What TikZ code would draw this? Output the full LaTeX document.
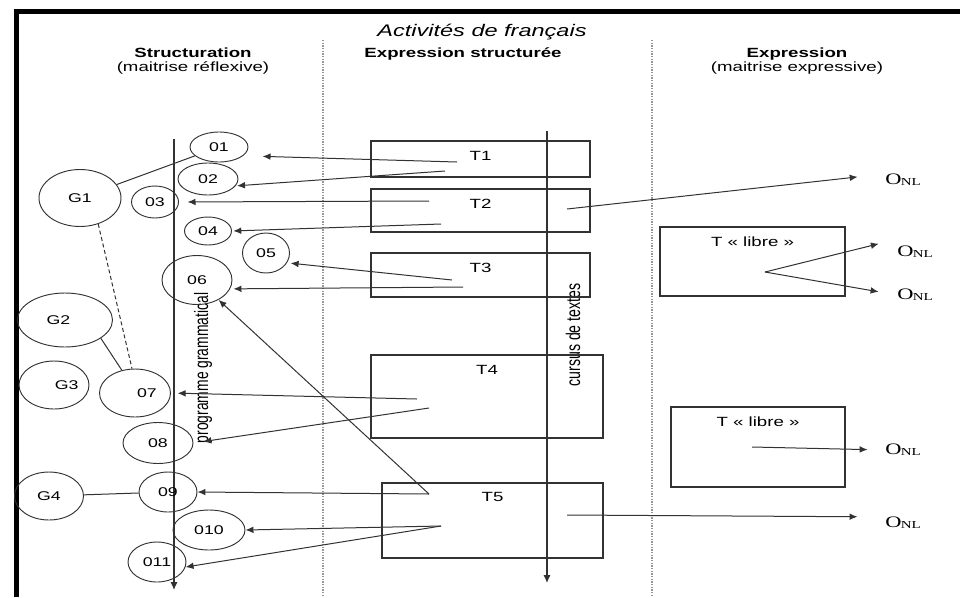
\documentclass[tikz,border=0pt]{standalone}
\usepackage{fontspec}
\setmainfont{Liberation Sans}
\newfontfamily\onlfont{Liberation Serif}
\usepackage{graphicx}
\usetikzlibrary{shapes.geometric,arrows.meta}
\definecolor{inkgray}{RGB}{50,50,50}
\definecolor{sepgray}{RGB}{150,150,150}
\newcommand{\wide}[1]{\scalebox{1.4}[1]{#1}}
\newcommand{\tall}[1]{\scalebox{1}[1.4]{#1}}
\newcommand{\onl}{\wide{\onlfont\fontsize{12}{12}\selectfont O\kern-0.3pt\raisebox{-0.8pt}{\fontsize{8}{8}\selectfont NL}}}

\begin{document}
\begin{tikzpicture}[x=0.75pt,y=-0.75pt,
  ell/.style 2 args={ellipse,draw=inkgray,line width=0.7pt,inner sep=0pt,
    minimum width=#1*0.75pt,minimum height=#2*0.75pt,font=\fontsize{9.5}{10}\selectfont},
  tbox/.style 2 args={rectangle,draw=inkgray,line width=0.8pt,inner sep=0pt,
    minimum width=#1*0.75pt,minimum height=#2*0.75pt},
  tlab/.style={anchor=center,yshift=-11.25pt,font=\fontsize{10}{10}\selectfont},
  onlnode/.style={inner sep=0pt},
  link/.style={inkgray,line width=0.75pt},
  flow/.style={inkgray,line width=0.75pt,-{Latex[length=6pt,width=5pt]}},
  axis/.style={inkgray,line width=1pt,-{Latex[length=6pt,width=5.5pt]}},
  sep/.style={sepgray,densely dotted,line width=1pt}]
  \useasboundingbox (0,0) rectangle (960,597);

  % Frame
  \draw[line width=4pt] (16.5,597) -- (16.5,11.5) -- (960,11.5);

  % Columns
  \draw[sep] (323,40) -- (323,597);
  \draw[sep] (652,40) -- (652,597);
  \node[font=\fontsize{12.6}{13}\selectfont\itshape] (title) at (482,32) {\wide{Activités de français}};
  \node[align=center,font=\fontsize{10}{10.5}\selectfont] (hstruct) at (193,61)
    {\wide{\bfseries Structuration}\\\wide{(maitrise réflexive)}};
  \node[font=\fontsize{10}{10.5}\selectfont\bfseries] (hexpstr) at (463,54) {\wide{Expression structurée}};
  \node[align=center,font=\fontsize{10}{10.5}\selectfont] (hexpr) at (797,61)
    {\wide{\bfseries Expression}\\\wide{(maitrise expressive)}};

  % Axes
  \coordinate (progtop) at (174,139);
  \coordinate (progend) at (174,590);
  \draw[axis] (progtop) -- (progend);
  \node[rotate=90,font=\fontsize{10.4}{10}\selectfont] (prog) at (203,368) {\tall{programme grammatical}};
  \coordinate (curstop) at (547,131);
  \coordinate (cursend) at (547,583);
  \draw[axis] (curstop) -- (cursend);
  \node[rotate=90,font=\fontsize{10.6}{10}\selectfont] (curs) at (573,335) {\tall{cursus de textes}};

  % Grammar objects
  \node[ell={58}{30}] (o1) at (219,147) {\wide{01}};
  \node[ell={60}{32}] (o2) at (208,179) {\wide{02}};
  \node[ell={47}{32}] (o3) at (155,202) {\wide{03}};
  \node[ell={47}{28}] (o4) at (208,231) {\wide{04}};
  \node[ell={47}{40}] (o5) at (266,253) {\wide{05}};
  \node[ell={70}{49}] (o6) at (197,280) {\wide{06}};
  \node[ell={71}{48}] (o7) at (135,393) {\hspace*{18pt}\wide{07}};
  \node[ell={70}{41}] (o8) at (158,443) {\wide{08}};
  \node[ell={58}{40}] (o9) at (168,492) {\wide{09}};
  \node[ell={72}{40}] (o10) at (209,530) {\wide{010}};
  \node[ell={58}{40}] (o11) at (157,562) {\wide{011}};
  \node[ell={82}{57}] (g1) at (80,198) {\wide{G1}};
  \node[ell={95}{54}] (g2) at (65,320) {\wide{G2}\hspace*{10pt}};
  \node[ell={70}{48}] (g3) at (54,385) {\hspace*{19pt}\wide{G3}};
  \node[ell={69}{48}] (g4) at (49,496) {\wide{G4}};

  % Texts
  \node[tbox={219}{36},label={[tlab]north:\wide{T1}}] (t1) at (480.5,159) {};
  \node[tbox={219}{43},label={[tlab]north:\wide{T2}}] (t2) at (480.5,210.5) {};
  \node[tbox={219}{44},label={[tlab]north:\wide{T3}}] (t3) at (480.5,275) {};
  \node[tbox={232}{83},label={[tlab]north:\wide{T4}}] (t4) at (487,396.5) {};
  \node[tbox={221}{75},label={[tlab]north:\wide{T5}}] (t5) at (492.5,520.5) {};
  \node[tbox={185}{69},label={[tlab]north:\wide{T « libre »}}] (tl1) at (752.5,261.5) {};
  \node[tbox={174}{80},label={[tlab]north:\wide{T « libre »}}] (tl2) at (758,447) {};

  % Outputs
  \node[onlnode] (onl1) at (903,180) {\onl};
  \node[onlnode] (onl2) at (915,252) {\onl};
  \node[onlnode] (onl3) at (915,295) {\onl};
  \node[onlnode] (onl4) at (903,450) {\onl};
  \node[onlnode] (onl5) at (903,523) {\onl};

  % Start points
  \coordinate (t1a) at (457,162);
  \coordinate (t1b) at (445,171);
  \coordinate (t2a) at (429,201);
  \coordinate (t2b) at (441,224);
  \coordinate (t2c) at (567,209);
  \coordinate (t3a) at (452,280);
  \coordinate (t3b) at (463,287);
  \coordinate (tl1a) at (765,272);
  \coordinate (t4a) at (417,399);
  \coordinate (t4b) at (429,408);
  \coordinate (t5a) at (429,494);
  \coordinate (t5b) at (441,526);
  \coordinate (t5c) at (567,515);
  \coordinate (tl2a) at (752,447);

  % Links between groups and objects
  \draw[link] (g1) -- (o1);
  \draw[link,densely dashed] (g1.-55) -- (o7.97);
  \draw[link] (g2.-27) -- (o7.120);
  \draw[link] (g4) -- (o9);

  % Arrows
  \draw[flow,shorten >=14.5pt] (t1a) -- (o1.-20);
  \draw[flow,shorten >=1pt] (t1b) -- (o2.-14);
  \draw[flow,shorten >=6.4pt] (t2a) -- (o3.east);
  \draw[flow,shorten >=1pt] (t2b) -- (o4.east);
  \draw[flow,shorten >=20.6pt] (t2c) -- (onl1.north west);
  \draw[flow,shorten >=2.7pt] (t3a) -- (o5.-25);
  \draw[flow,shorten >=2.5pt] (t3b) -- (o6.-15);
  \draw[flow,shorten >=14pt] (tl1a) -- ([yshift=5pt]onl2.north west);
  \draw[flow,shorten >=14pt] (tl1a) -- (onl3.west);
  \draw[flow,shorten >=5pt] (t4a) -- (o7.east);
  \draw[flow,shorten >=7.5pt] (t4b) -- (o8.east);
  \draw[flow] (t5a) -- (o6);
  \draw[flow] (t5a) -- (o9.east);
  \draw[flow] (t5b) -- (o10.east);
  \draw[flow] (t5b) -- (o11.-10);
  \draw[flow,shorten >=20.6pt] (t5c) -- (onl5.north west);
  \draw[flow,shorten >=13pt] (tl2a) -- (onl4.west);
\end{tikzpicture}
\end{document}
